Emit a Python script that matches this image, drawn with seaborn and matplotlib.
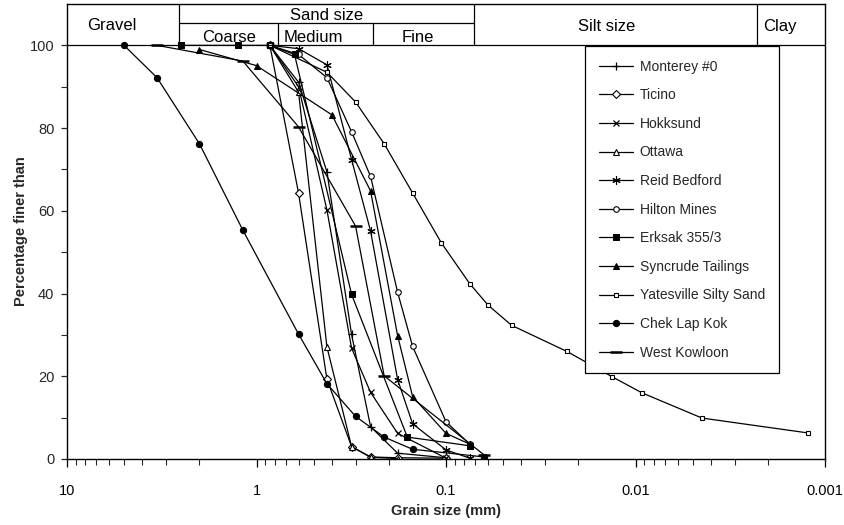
import numpy as np
import pandas as pd
import seaborn as sns
import matplotlib
matplotlib.use("Agg")
import matplotlib.pyplot as plt
from matplotlib.ticker import FixedLocator, NullFormatter

# ---------------- data (grain size mm, percentage finer) ----------------
monterey_d = [0.85, 0.6, 0.425, 0.315, 0.25, 0.18, 0.1]
monterey_p = [100, 91.1, 69.4, 30.1, 7.8, 1.4, 0.3]

ticino_d = [0.85, 0.6, 0.425, 0.315, 0.25, 0.18, 0.1]
ticino_p = [100, 64.3, 19.3, 3.0, 0.5, 0.3, 0.2]

hokksund_d = [0.85, 0.6, 0.425, 0.315, 0.25, 0.18, 0.1]
hokksund_p = [100, 90.0, 60.2, 26.8, 16.1, 6.2, 0.2]

ottawa_d = [0.85, 0.6, 0.425, 0.315, 0.25, 0.18]
ottawa_p = [100, 88.7, 27.1, 3.0, 0.4, 0.1]

reid_d = [0.85, 0.6, 0.425, 0.315, 0.25, 0.18, 0.15, 0.1, 0.075]
reid_p = [100, 99.2, 95.3, 72.4, 55.1, 19.2, 8.5, 2.2, 0.2]

hilton_d = [0.85, 0.6, 0.425, 0.315, 0.25, 0.18, 0.15, 0.1, 0.075]
hilton_p = [100, 97.8, 92.2, 79.1, 68.3, 40.3, 27.2, 9.0, 3.6]

erksak_d = [2.5, 1.25, 0.85, 0.63, 0.315, 0.16, 0.075]
erksak_p = [100, 100, 100, 97.8, 39.8, 5.3, 3.2]

syncrude_d = [2.0, 1.0, 0.4, 0.25, 0.18, 0.15, 0.1, 0.075]
syncrude_p = [99.0, 95.1, 83.2, 64.8, 29.8, 15.1, 6.2, 3.6]

yates_d = [0.85, 0.425, 0.3, 0.212, 0.15, 0.106, 0.075, 0.06, 0.045,
           0.023, 0.0133, 0.00925, 0.00446, 0.00123]
yates_p = [100, 93.5, 86.3, 76.2, 64.3, 52.3, 42.4, 37.2, 32.3,
           26.0, 19.9, 16.0, 9.9, 6.3]

cheklap_d = [5.0, 3.35, 2.0, 1.18, 0.6, 0.425, 0.3, 0.212, 0.15, 0.063]
cheklap_p = [100, 92.2, 76.2, 55.3, 30.2, 18.2, 10.3, 5.3, 2.35, 0.5]

westk_d = [3.35, 1.18, 0.6, 0.3, 0.212, 0.063]
westk_p = [100, 96.2, 80.3, 56.3, 20.1, 1.0]

series_names = ["Monterey #0", "Ticino", "Hokksund", "Ottawa", "Reid Bedford",
                "Hilton Mines", "Erksak 355/3", "Syncrude Tailings",
                "Yatesville Silty Sand", "Chek Lap Kok", "West Kowloon"]
series_data = [(monterey_d, monterey_p), (ticino_d, ticino_p),
               (hokksund_d, hokksund_p), (ottawa_d, ottawa_p),
               (reid_d, reid_p), (hilton_d, hilton_p), (erksak_d, erksak_p),
               (syncrude_d, syncrude_p), (yates_d, yates_p),
               (cheklap_d, cheklap_p), (westk_d, westk_p)]

# soil classification header
zone_bounds = [2.56, 0.071, 0.00229]          # gravel|sand, sand|silt, silt|clay
sand_sub_bounds = [0.77, 0.243]               # coarse|medium, medium|fine
zone_labels = ["Gravel", "Sand size", "Coarse", "Medium", "Fine", "Silt size", "Clay"]

x_tick_vals = [10, 1, 0.1, 0.01, 0.001]
x_tick_labels = ["10", "1", "0.1", "0.01", "0.001"]
y_tick_vals = [0, 20, 40, 60, 80, 100]

# ---------------- styling ----------------
sns.set_theme(style="white")
plt.rcParams['font.family'] = ['Liberation Sans', 'DejaVu Sans']

K = 'black'
marker_styles = {
    "Monterey #0": dict(marker='+', markersize=6, mew=0.9, mec=K),
    "Ticino": dict(marker='D', markersize=3.6, mfc='white', mec=K, mew=0.8),
    "Hokksund": dict(marker='x', markersize=5, mew=0.9, mec=K),
    "Ottawa": dict(marker='^', markersize=5, mfc='white', mec=K, mew=0.8),
    "Reid Bedford": dict(marker=(6, 2, 0), markersize=6, mew=0.8, mec=K),
    "Hilton Mines": dict(marker='o', markersize=4, mfc='white', mec=K, mew=0.8),
    "Erksak 355/3": dict(marker='s', markersize=4.5, mfc=K, mec=K),
    "Syncrude Tailings": dict(marker='^', markersize=5, mfc=K, mec=K),
    "Yatesville Silty Sand": dict(marker='s', markersize=3.5, mfc='white', mec=K, mew=0.8),
    "Chek Lap Kok": dict(marker='o', markersize=4.5, mfc=K, mec=K),
    "West Kowloon": dict(marker='_', markersize=8, mew=1.8, mec=K),
}

fig = plt.figure(figsize=(8.44, 5.25), dpi=100)
ax = fig.add_axes([67 / 844, 66 / 525, 758 / 844, 455 / 525])

for name, (d, p) in zip(series_names, series_data):
    df = pd.DataFrame({"d": d, "p": p})
    sns.lineplot(data=df, x="d", y="p", ax=ax, color=K, linewidth=0.9,
                 sort=False, estimator=None, label=name, **marker_styles[name])

ax.set_xscale('log')
ax.set_xlim(10, 0.001)
ax.set_ylim(0, 110)

ax.xaxis.set_major_locator(FixedLocator(x_tick_vals))
ax.set_xticklabels(x_tick_labels)
minor = [m * 10.0 ** e for e in range(-3, 1) for m in range(2, 10)]
ax.xaxis.set_minor_locator(FixedLocator(minor))
ax.xaxis.set_minor_formatter(NullFormatter())
ax.yaxis.set_major_locator(FixedLocator(y_tick_vals))
ax.yaxis.set_minor_locator(FixedLocator([10, 30, 50, 70, 90]))

ax.tick_params(axis='x', which='major', direction='out', length=6, width=0.9,
               pad=12, labelsize=10.5, bottom=True, colors='black')
ax.tick_params(axis='x', which='minor', direction='out', length=4, width=0.8, bottom=True)
ax.tick_params(axis='y', which='major', direction='out', length=4, width=0.9,
               pad=5, labelsize=10.5, left=True)
ax.tick_params(axis='y', which='minor', direction='out', length=4, width=0.8, left=True)

for s in ax.spines.values():
    s.set_color('black')
    s.set_linewidth(1.0)

ax.set_xlabel("Grain size (mm)", fontsize=10.5, fontweight='bold', labelpad=4)
ax.set_ylabel("Percentage finer than", fontsize=10.5, fontweight='bold', labelpad=1)

# header lines
lk = dict(color='black', linewidth=0.9)
ax.axhline(100, **lk)
for b in zone_bounds:
    ax.plot([b, b], [100, 110], **lk)
ax.plot([zone_bounds[0], zone_bounds[1]], [105.3, 105.3], **lk)
for b in sand_sub_bounds:
    ax.plot([b, b], [100, 105.3], **lk)

tk = dict(ha='center', va='center', fontsize=12, color='black')
ax.text(5.8, 104.7, zone_labels[0], **tk)
ax.text(0.426, 107.1, zone_labels[1], **tk)
ax.text(1.40, 102.0, zone_labels[2], **tk)
ax.text(0.50, 102.0, zone_labels[3], **tk)
ax.text(0.1406, 102.0, zone_labels[4], **tk)
ax.text(0.01413, 104.5, zone_labels[5], **tk)
ax.text(0.00173, 104.5, zone_labels[6], **tk)

leg = ax.legend(loc='upper left', bbox_to_anchor=(0.683, 0.908), frameon=True,
                fancybox=False, shadow=False, fontsize=10, handlelength=2.5,
                labelspacing=1.05, borderpad=1.0, handletextpad=0.45,
                borderaxespad=0)
leg.get_frame().set_edgecolor('black')
leg.get_frame().set_linewidth(0.9)
leg.get_frame().set_alpha(1)

fig.savefig("out.png", dpi=100)
